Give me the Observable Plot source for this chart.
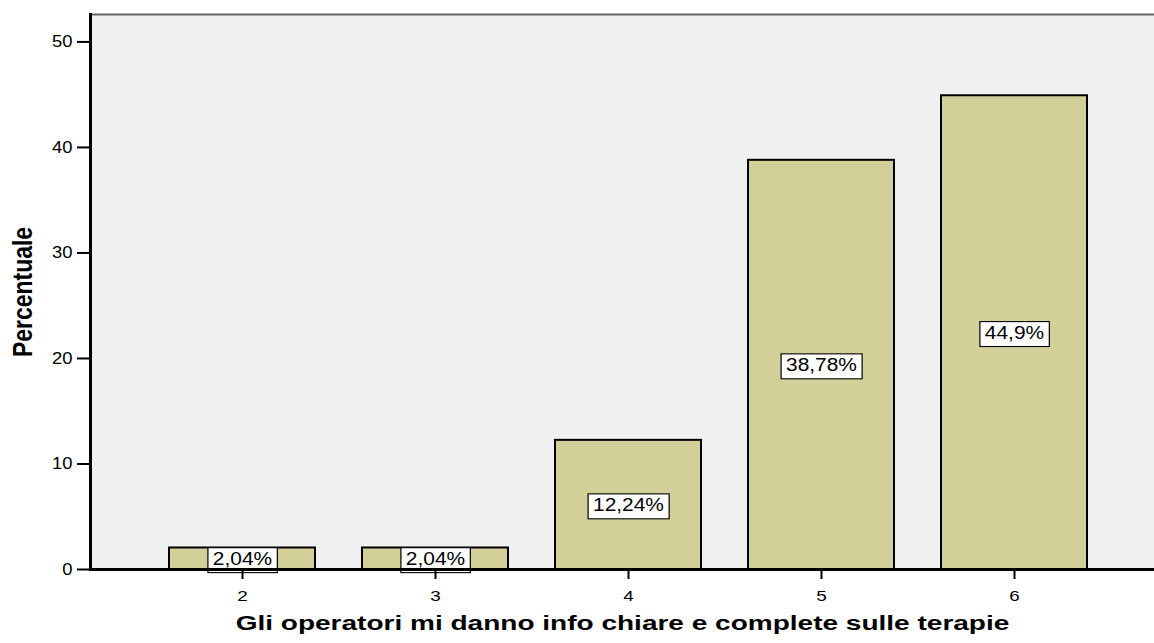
<!DOCTYPE html>
<html><head><meta charset="utf-8">
<script src="https://cdn.jsdelivr.net/npm/d3@7"></script>
<script src="https://cdn.jsdelivr.net/npm/@observablehq/plot@0.6"></script>
<style>body{margin:0;background:#fff;} svg{display:block}</style>
</head><body><div id="chart"></div>
<script>
const categories = ["2", "3", "4", "5", "6"];
const percentages = [2.04, 2.04, 12.24, 38.78, 44.9];
const valueLabels = ["2,04%", "2,04%", "12,24%", "38,78%", "44,9%"];
const yTicks = [0, 10, 20, 30, 40, 50];
const xTitle = "Gli operatori mi danno info chiare e complete sulle terapie";
const yTitle = "Percentuale";

const data = categories.map((c, i) => ({cat: c, pct: percentages[i], label: valueLabels[i]}));
const yMax = 52.6;

const chart = Plot.plot({
  width: 1154, height: 643,
  marginLeft: 90, marginRight: 0, marginTop: 14, marginBottom: 74,
  style: {fontFamily: "Arial, 'Liberation Sans', sans-serif", background: "#fff", color: "#000"},
  x: {type: "band", domain: categories, range: [144.4, 1110.6], paddingInner: 0.245, paddingOuter: 0.1225, axis: null},
  y: {domain: [0, yMax], axis: null},
  marks: [
    Plot.frame({fill: "#f0f0f0", stroke: null}),
    Plot.frame({anchor: "top", stroke: "#666", strokeWidth: 2}),
    Plot.barY(data, {x: "cat", y: "pct", fill: "#d3cf98", stroke: "#000", strokeWidth: 2}),
    Plot.text(data, {x: "cat", y: d => d.pct / 2, text: "label", fontSize: 19, fill: "#000", className: "vlabel"}),
    Plot.axisY(yTicks, {tickSize: 13, tickPadding: 5, fontSize: 16, stroke: "#000", strokeWidth: 2, label: null, className: "yaxis"}),
    Plot.axisX({tickSize: 10, tickPadding: 12, fontSize: 14, stroke: "#000", strokeWidth: 2, label: null, className: "xaxis"}),
    Plot.ruleY([0], {stroke: "#000", strokeWidth: 3}),
    Plot.frame({anchor: "left", stroke: "#000", strokeWidth: 3}),
    Plot.text([yTitle], {frameAnchor: "left", dx: -67, rotate: -90, textAnchor: "middle", fontWeight: "bold", fontSize: 27, fill: "#000", className: "ytitle"}),
    Plot.text([xTitle], {frameAnchor: "bottom", dy: 60, fontWeight: "bold", fontSize: 21, fill: "#000", className: "xtitle"})
  ]
});
document.getElementById("chart").appendChild(chart);

// horizontal stretch of text along its own baseline
function stretch(selector, s) {
  d3.select(chart).selectAll(selector).each(function() {
    let t = this.getAttribute("transform");
    if (!t) {
      const x = this.getAttribute("x") || 0, y = this.getAttribute("y") || 0;
      this.removeAttribute("x"); this.removeAttribute("y");
      t = `translate(${x},${y})`;
    }
    this.setAttribute("transform", t + ` scale(${s},1)`);
  });
}
stretch("g.vlabel text", 1.1);
stretch("g.yaxis text", 1.15);
stretch("g.xaxis text", 1.35);
stretch("g.xtitle text", 1.335);
stretch("g.ytitle text", 0.85);

// white boxes behind the value labels
d3.select(chart).selectAll("g.vlabel text").each(function() {
  const b = this.getBBox();
  d3.select(this.parentNode).insert("rect", () => this)
    .attr("x", b.x - 4.5).attr("y", b.y).attr("width", b.width + 9).attr("height", b.height + 4)
    .attr("fill", "#fff").attr("stroke", "#000").attr("stroke-width", 1.1)
    .attr("transform", this.getAttribute("transform"));
});
</script>
</body></html>
